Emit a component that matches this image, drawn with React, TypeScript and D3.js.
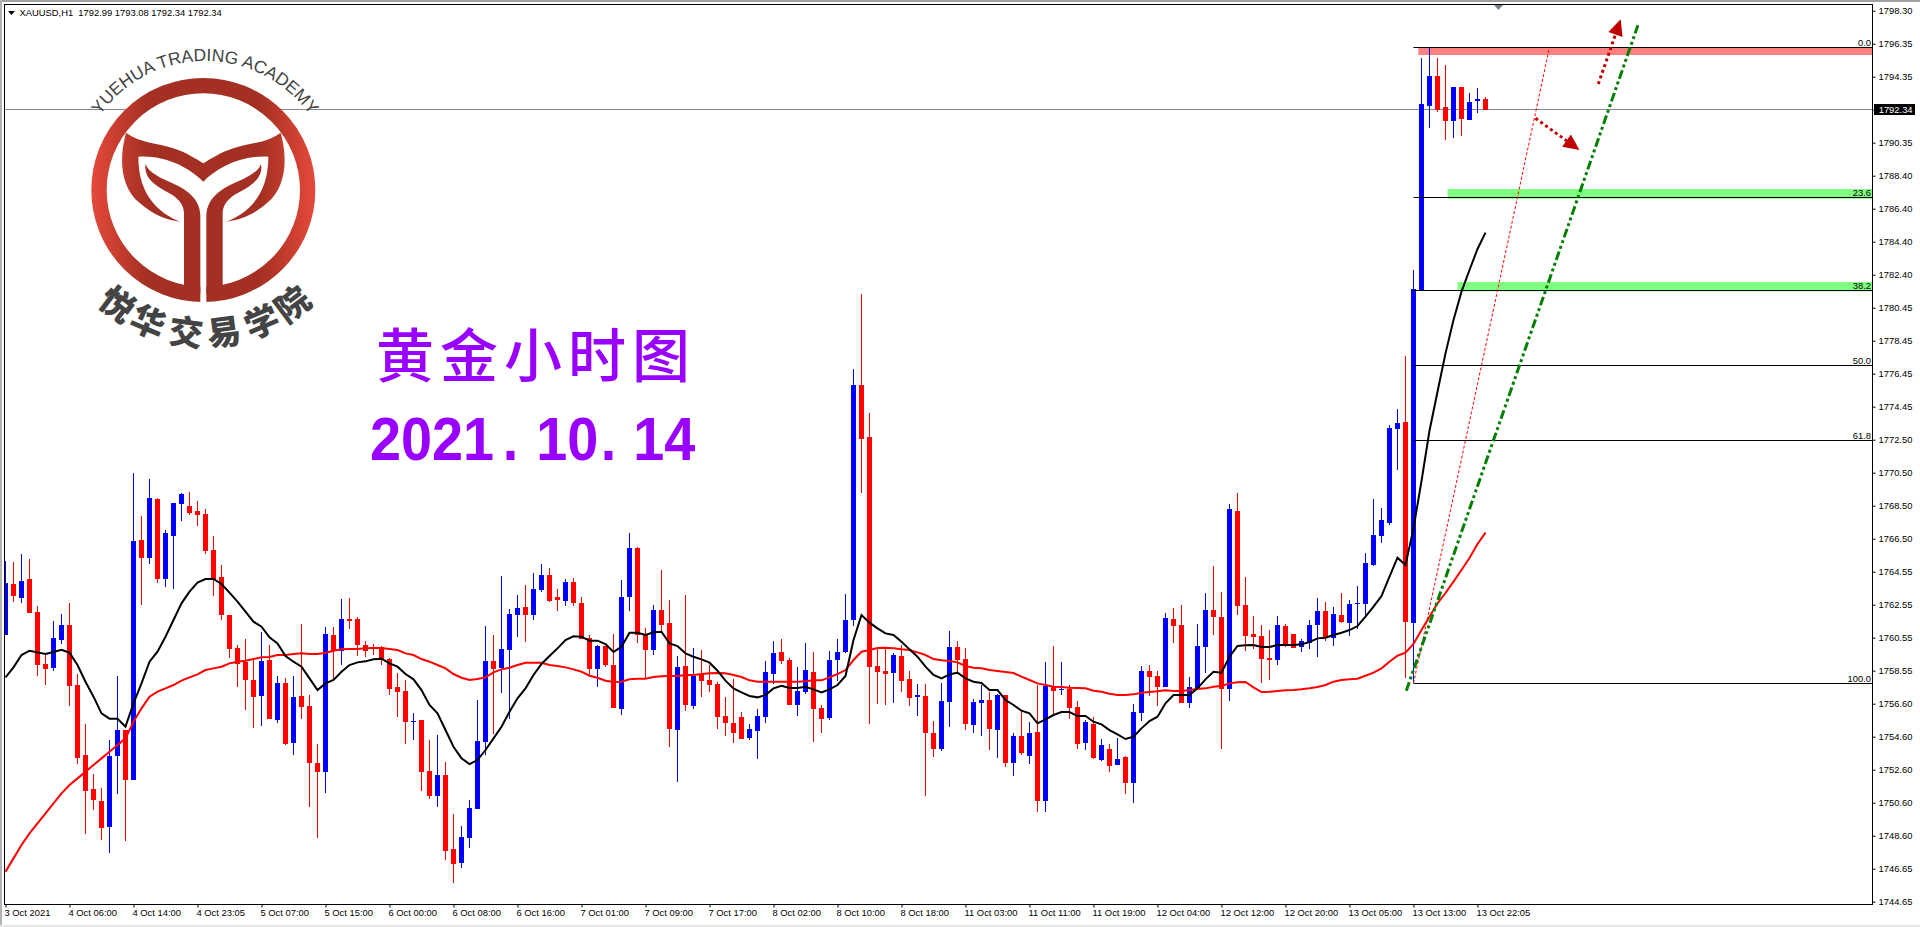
import { useEffect, useRef } from "react";
import * as d3 from "d3";

const opens = [
  1760.8, 1763.86, 1763.02, 1764.16, 1762.18, 1759.06, 1758.82, 1760.5, 1761.4, 1757.8,
  1753.6, 1751.56, 1750.84, 1749.28, 1753.54, 1755.1, 1752.1, 1766.5, 1765.42, 1768.96,
  1764.16, 1766.74, 1768.66, 1768.54, 1768.24, 1768.06, 1765.9, 1764.28, 1762, 1760.02,
  1759.18, 1758.1, 1757.14, 1759.3, 1755.7, 1757.92, 1754.32, 1757.14, 1756.54, 1753.12,
  1752.58, 1760.8, 1759.84, 1761.76, 1761.76, 1760.2, 1760.08, 1760.08, 1759.36, 1757.68,
  1757.44, 1755.58, 1755.7, 1752.64, 1751.14, 1752.4, 1747.96, 1747.12, 1748.62, 1750.36,
  1754.38, 1759.24, 1758.82, 1759.9, 1762, 1762.48, 1762, 1763.5, 1764.4, 1763.08,
  1762.84, 1763.98, 1762.72, 1760.62, 1758.76, 1760.14, 1759, 1756.36, 1763.08, 1766.02,
  1760.8, 1759.9, 1762.3, 1761.52, 1755.1, 1758.94, 1756.54, 1758.46, 1758.1, 1757.86,
  1755.94, 1755.52, 1755.88, 1754.62, 1755.04, 1755.88, 1758.46, 1759.78, 1759.3, 1756.6,
  1757.38, 1758.58, 1756.42, 1755.82, 1759.3, 1759.78, 1761.7, 1775.8, 1772.68, 1758.94,
  1758.64, 1758.52, 1759.54, 1758.16, 1757.08, 1757.14, 1754.92, 1753.96, 1756.78, 1760.08,
  1759.36, 1755.4, 1756.72, 1756.9, 1755.1, 1757.2, 1753.12, 1754.74, 1753.54, 1754.98,
  1750.84, 1757.74, 1757.5, 1757.56, 1756.48, 1754.32, 1755.46, 1753.3, 1753.96, 1753,
  1753.48, 1751.92, 1756.12, 1758.64, 1758.34, 1757.68, 1761.76, 1761.4, 1756.72, 1757.56,
  1760.08, 1762.3, 1761.88, 1757.56, 1768.24, 1762.6, 1760.86, 1760.74, 1759.42, 1759.3,
  1761.34, 1760.86, 1760.08, 1760.32, 1761.4, 1762.24, 1760.62, 1762, 1761.52, 1762.66,
  1762.66, 1765, 1766.74, 1767.52, 1773.16, 1773.58, 1761.52, 1781.5, 1792.54, 1794.34,
  1792.48, 1791.64, 1793.68, 1791.7, 1792.84, 1792.99,
];

const highs = [
  1765.24, 1765.2, 1765.66, 1765.36, 1762.54, 1759.7, 1761.64, 1762.06, 1762.72, 1758.46,
  1755.46, 1752.46, 1751.62, 1754.5, 1758.34, 1755.1, 1770.52, 1767.94, 1770.16, 1769.02,
  1767.1, 1768.72, 1769.32, 1769.38, 1768.84, 1768.36, 1766.74, 1765, 1762, 1760.2,
  1760.56, 1759.3, 1760.98, 1760.2, 1758.34, 1758.22, 1758.34, 1761.46, 1757.2, 1754.26,
  1761.28, 1761.28, 1762.96, 1763.02, 1761.88, 1760.44, 1760.26, 1760.14, 1759.42, 1758.52,
  1758.1, 1756.12, 1755.7, 1754.5, 1754.8, 1753.18, 1750.06, 1749.34, 1750.9, 1756.9,
  1761.34, 1760.8, 1764.34, 1762.36, 1763.2, 1763.8, 1764.52, 1765.06, 1764.82, 1763.56,
  1764.16, 1764.22, 1763.08, 1760.8, 1760.2, 1760.14, 1760.86, 1764.1, 1766.92, 1766.08,
  1761.22, 1762.6, 1764.7, 1762.9, 1759.54, 1763.2, 1760.02, 1759.9, 1759, 1757.98,
  1757.08, 1758.16, 1756.18, 1755.46, 1756.36, 1759.24, 1760.44, 1760.56, 1759.42, 1758.88,
  1760.32, 1759.78, 1756.6, 1759.84, 1760.56, 1763.26, 1776.76, 1781.27, 1774.12, 1759.96,
  1759.96, 1759.72, 1760.2, 1758.64, 1757.84, 1757.86, 1755.64, 1757.92, 1761.04, 1760.44,
  1760.02, 1756.96, 1757.8, 1757.38, 1757.26, 1757.2, 1754.92, 1756.3, 1755.58, 1757.8,
  1759.18, 1760.14, 1759.18, 1757.8, 1756.84, 1755.7, 1755.88, 1754.56, 1754.26, 1754.62,
  1753.54, 1756.66, 1758.94, 1759, 1758.64, 1762.12, 1762.42, 1762.6, 1758.28, 1761.46,
  1763.32, 1764.94, 1763.38, 1768.66, 1769.32, 1764.28, 1761.94, 1761.4, 1761.1, 1761.94,
  1761.46, 1760.86, 1760.56, 1761.7, 1763.02, 1762.78, 1762.48, 1763.32, 1762.9, 1763.74,
  1765.72, 1768.96, 1768.42, 1773.4, 1774.36, 1777.54, 1782.71, 1795.42, 1796.04, 1795.42,
  1795, 1793.68, 1793.68, 1793.32, 1793.62, 1793.08,
];

const lows = [
  1760.8, 1762.78, 1762.7, 1762.12, 1758.34, 1757.8, 1758.64, 1760.26, 1756.54, 1753.06,
  1748.86, 1750.3, 1748.5, 1747.72, 1751.26, 1748.44, 1752.1, 1762.6, 1765.06, 1763.92,
  1763.68, 1763.56, 1767.64, 1768, 1767.34, 1765.66, 1763.14, 1761.7, 1759.42, 1757.68,
  1756.3, 1755.22, 1755.34, 1755.76, 1755.52, 1754.2, 1753.6, 1755.76, 1750.48, 1748.62,
  1751.32, 1758.1, 1759, 1761.16, 1759.54, 1759.48, 1759.6, 1759, 1757.2, 1755.88,
  1754.26, 1754.5, 1751.44, 1750.96, 1750.48, 1747.3, 1745.92, 1746.82, 1748.02, 1750.36,
  1753.6, 1754.86, 1757.32, 1755.76, 1760.68, 1760.38, 1761.7, 1763.38, 1762.78, 1762.24,
  1762.54, 1762.54, 1760.56, 1758.4, 1757.68, 1758.88, 1756.42, 1756, 1762.24, 1760.32,
  1758.16, 1759.6, 1761.04, 1754.08, 1751.98, 1756.24, 1756.36, 1757.08, 1757.38, 1755.16,
  1754.74, 1754.32, 1754.56, 1754.5, 1753.36, 1755.52, 1757.86, 1759.06, 1756.6, 1755.94,
  1757.26, 1754.38, 1754.92, 1755.7, 1758.04, 1759.72, 1761.34, 1769.34, 1755.46, 1756.66,
  1756.6, 1756.72, 1757.38, 1756.54, 1755.94, 1751.14, 1753.48, 1753.84, 1755.28, 1758.5,
  1755.1, 1754.92, 1754.74, 1753.9, 1753.42, 1752.88, 1752.34, 1753.6, 1753.06, 1750.18,
  1750.18, 1756, 1757.2, 1755.76, 1753.96, 1753.9, 1753.36, 1753.24, 1752.58, 1753,
  1751.26, 1750.72, 1755.64, 1757.14, 1756.54, 1757.68, 1760.32, 1756.72, 1756.42, 1757.56,
  1758.52, 1760.8, 1753.96, 1756.84, 1762, 1759.84, 1759.96, 1757.92, 1758.1, 1759,
  1760.08, 1760.02, 1759.78, 1759.96, 1759.48, 1760.44, 1760.14, 1761.52, 1760.74, 1761.16,
  1761.82, 1764.94, 1766.32, 1767.4, 1770.7, 1758.22, 1757.9, 1781.5, 1791.22, 1792.18,
  1790.5, 1790.62, 1790.74, 1791.7, 1792.12, 1792.34,
];

const closes = [
  1763.9, 1763.14, 1764.04, 1762.12, 1759, 1758.76, 1760.62, 1761.4, 1757.74, 1753.42,
  1751.44, 1750.9, 1749.22, 1753.54, 1755.1, 1752.1, 1766.44, 1765.42, 1769.02, 1764.16,
  1766.92, 1768.72, 1769.26, 1768.12, 1768, 1765.84, 1764.1, 1762, 1759.96, 1759.06,
  1758.1, 1757.08, 1759.24, 1755.76, 1757.92, 1754.26, 1757.08, 1756.48, 1753.12, 1752.58,
  1760.86, 1759.84, 1761.76, 1761.64, 1760.2, 1759.84, 1760.02, 1759.36, 1757.56, 1757.38,
  1755.58, 1755.64, 1752.58, 1751.14, 1752.4, 1747.84, 1747.06, 1748.68, 1750.4, 1754.44,
  1759.24, 1758.76, 1759.96, 1762.06, 1762.42, 1762, 1763.56, 1764.4, 1762.84, 1762.9,
  1763.98, 1762.72, 1760.56, 1758.76, 1760.14, 1759, 1756.42, 1763.08, 1766.02, 1760.8,
  1759.9, 1762.3, 1761.4, 1755.16, 1758.88, 1756.6, 1758.34, 1758.04, 1757.8, 1755.88,
  1755.52, 1754.92, 1754.56, 1755.16, 1755.94, 1758.58, 1759.72, 1759.24, 1756.6, 1757.44,
  1758.7, 1756.36, 1755.76, 1759.3, 1759.78, 1761.7, 1775.8, 1772.56, 1758.88, 1758.58,
  1758.46, 1759.6, 1758.04, 1757.02, 1757.2, 1754.92, 1753.96, 1756.84, 1760.08, 1759.3,
  1755.46, 1756.78, 1756.9, 1755.16, 1757.2, 1753.12, 1754.74, 1753.72, 1754.92, 1750.84,
  1757.74, 1757.44, 1757.56, 1756.42, 1754.26, 1755.58, 1753.42, 1754.2, 1752.94, 1753.36,
  1751.92, 1756.18, 1758.64, 1758.28, 1757.68, 1761.82, 1761.34, 1756.72, 1757.68, 1760.14,
  1762.3, 1761.88, 1757.56, 1768.36, 1762.54, 1760.74, 1760.68, 1759.36, 1759.3, 1761.4,
  1760.2, 1760.02, 1760.44, 1761.4, 1762.24, 1760.62, 1762.06, 1761.58, 1762.66, 1762.72,
  1765.12, 1766.8, 1767.7, 1773.22, 1773.52, 1761.58, 1781.57, 1792.66, 1794.34, 1792.3,
  1791.64, 1793.68, 1791.76, 1792.78, 1792.96, 1792.34,
];

// black fast average, read bar by bar
const fastMa = [
  1758.26, 1758.86, 1759.6, 1759.86, 1759.76, 1759.66, 1759.78, 1759.92, 1759.74, 1759,
  1758, 1757.1, 1756.1, 1755.78, 1755.78, 1755.3, 1756.7, 1757.9, 1759.2, 1759.8,
  1760.7, 1761.7, 1762.7, 1763.4, 1763.94, 1764.16, 1764.16, 1763.86, 1763.34, 1762.8,
  1762.2, 1761.6, 1761.3, 1760.66, 1760.3, 1759.54, 1759.2, 1758.9, 1758.2, 1757.5,
  1757.9, 1758.1, 1758.6, 1759, 1759.16, 1759.22, 1759.34, 1759.38, 1759.1, 1758.9,
  1758.46, 1758.14, 1757.5, 1756.6, 1756.1, 1755.1, 1754.1, 1753.4, 1753.06, 1753.3,
  1753.9, 1754.6, 1755.3, 1756.2, 1757, 1757.6, 1758.4, 1759.06, 1759.54, 1760,
  1760.5, 1760.72, 1760.7, 1760.46, 1760.46, 1760.26, 1759.78, 1760.1, 1760.94, 1760.94,
  1760.8, 1760.96, 1761, 1760.3, 1760.14, 1759.7, 1759.5, 1759.34, 1759.14, 1758.66,
  1758.06, 1757.6, 1757.36, 1757.14, 1757.06, 1757.2, 1757.6, 1757.76, 1757.62, 1757.62,
  1757.7, 1757.54, 1757.36, 1757.54, 1757.8, 1758.34, 1760.5, 1762, 1761.54, 1761.2,
  1760.9, 1760.8, 1760.4, 1759.94, 1759.5, 1758.9, 1758.4, 1758.2, 1758.44, 1758.54,
  1758.2, 1758, 1757.92, 1757.5, 1757.5, 1756.9, 1756.6, 1756.26, 1756.1, 1755.5,
  1755.74, 1756, 1756.18, 1756.18, 1755.94, 1755.94, 1755.6, 1755.44, 1755.1, 1754.84,
  1754.56, 1754.7, 1755.2, 1755.64, 1755.9, 1756.7, 1757.2, 1757.2, 1757.2, 1757.6,
  1758.14, 1758.6, 1758.54, 1759.5, 1760.14, 1760.18, 1760.2, 1760.08, 1760.08, 1760.2,
  1760.2, 1760.2, 1760.24, 1760.38, 1760.6, 1760.64, 1760.8, 1760.94, 1761.1, 1761.34,
  1761.9, 1762.5, 1763.14, 1764.3, 1765.44, 1765, 1767.2, 1770.04, 1773.06, 1775.4,
  1777.7, 1779.7, 1781.4, 1782.7, 1783.96, 1784.94,
];

// red slow average
const slowMa = [
  1746.6, 1747.4, 1748.2, 1748.9, 1749.5, 1750.1, 1750.7, 1751.3, 1751.8, 1752.2,
  1752.6, 1753, 1753.4, 1753.8, 1754.2, 1754.6, 1755.6, 1756.4, 1757.1, 1757.4,
  1757.6, 1757.8, 1758.06, 1758.26, 1758.44, 1758.7, 1758.8, 1758.9, 1759.1, 1759.2,
  1759.26, 1759.36, 1759.46, 1759.48, 1759.6, 1759.6, 1759.66, 1759.7, 1759.66, 1759.66,
  1759.74, 1759.86, 1759.94, 1759.96, 1759.96, 1760, 1760.02, 1760.02, 1759.96, 1759.9,
  1759.7, 1759.6, 1759.36, 1759.2, 1759, 1758.8, 1758.46, 1758.24, 1758.1, 1758.16,
  1758.26, 1758.56, 1758.74, 1758.84, 1759, 1759.14, 1759.14, 1759.14, 1759, 1758.94,
  1758.86, 1758.74, 1758.6, 1758.36, 1758.24, 1758.06, 1757.98, 1758, 1758.14, 1758.18,
  1758.18, 1758.28, 1758.32, 1758.34, 1758.34, 1758.4, 1758.4, 1758.46, 1758.5, 1758.52,
  1758.5, 1758.4, 1758.28, 1758.08, 1758, 1758, 1758, 1758, 1758, 1758,
  1758.02, 1758.08, 1758.08, 1758.26, 1758.46, 1758.7, 1759.3, 1759.8, 1759.9, 1760.02,
  1760.04, 1760, 1759.94, 1759.9, 1759.76, 1759.6, 1759.36, 1759.28, 1759.24, 1759.16,
  1758.94, 1758.84, 1758.8, 1758.7, 1758.64, 1758.58, 1758.52, 1758.3, 1758.1, 1757.9,
  1757.8, 1757.7, 1757.68, 1757.64, 1757.62, 1757.6, 1757.46, 1757.4, 1757.28, 1757.2,
  1757.2, 1757.24, 1757.34, 1757.38, 1757.42, 1757.48, 1757.44, 1757.44, 1757.5, 1757.56,
  1757.6, 1757.7, 1757.74, 1757.9, 1757.96, 1757.98, 1757.66, 1757.38, 1757.4, 1757.44,
  1757.48, 1757.5, 1757.54, 1757.6, 1757.68, 1757.8, 1758, 1758.1, 1758.14, 1758.18,
  1758.36, 1758.54, 1758.8, 1759.2, 1759.56, 1759.74, 1760.26, 1761.1, 1761.9, 1762.7,
  1763.32, 1764, 1764.7, 1765.42, 1766.26, 1766.94,
];

const priceTicks = [
  "1798.30", "1796.35", "1794.35", "1792.35", "1790.35", "1788.40", "1786.40",
  "1784.40", "1782.40", "1780.45", "1778.45", "1776.45", "1774.45", "1772.50",
  "1770.50", "1768.50", "1766.50", "1764.55", "1762.55", "1760.55", "1758.55",
  "1756.60", "1754.60", "1752.60", "1750.60", "1748.60", "1746.65", "1744.65",
];

const timeTicks = [
  "3 Oct 2021", "4 Oct 06:00", "4 Oct 14:00", "4 Oct 23:05", "5 Oct 07:00", "5 Oct 15:00",
  "6 Oct 00:00", "6 Oct 08:00", "6 Oct 16:00", "7 Oct 01:00", "7 Oct 09:00", "7 Oct 17:00",
  "8 Oct 02:00", "8 Oct 10:00", "8 Oct 18:00", "11 Oct 03:00", "11 Oct 11:00", "11 Oct 19:00",
  "12 Oct 04:00", "12 Oct 12:00", "12 Oct 20:00", "13 Oct 05:00", "13 Oct 13:00", "13 Oct 22:05",
];

const lastPrice = 1792.34;

// fibonacci drawn on the last leg
const fibHigh = 1796.06;
const fibLow = 1757.9;
const fibBar = 176;
const fibLevels = [0, 23.6, 38.2, 50, 61.8, 100];

// supply / demand boxes
const zoneBars = [176.6, 180.25, 181.5];
const zoneTops = [1796.06, 1787.56, 1781.98];
const zoneBottoms = [1795.6, 1786.98, 1781.42];
const zoneColors = ["#ff8080", "#80ff80", "#80ff80"];

// trendlines, [bar, price] ends (bars run on past the last candle)
const greenTrend = [[175.1, 1757.46], [204.05, 1797.38]];
const redTrend = [[176, 1757.9], [193, 1796.06]];
const arrowDown = [[191.25, 1791.8], [196.75, 1789.9]];
const arrowUp = [[199.1, 1793.86], [201.9, 1797.74]];

const academyCn = ["悦", "华", "交", "易", "学", "院"];
const academyAngles = [37, 23, 7.5, -7.5, -23, -37];

const dateParts = ["2021", ".", "10", ".", "14"];
const dateGaps = [0, 9.6, 20, 2.7, 19];

const LABEL_FONT = "'Liberation Sans', Arial, sans-serif";
const LABEL_SIZE = 9.4;

const App = () => {
  const svgRef = useRef<SVGSVGElement | null>(null);

  useEffect(() => {
    if (!svgRef.current) return;
    const width = 1920;
    const height = 927;
    const frame = { left: 4.5, top: 4.5, right: 1872.5, bottom: 904.5 };

    const svg = d3.select(svgRef.current);
    svg.selectAll("*").remove();

    const xScale = d3.scaleLinear().domain([0, 185]).range([5.5, 1485.5]);
    const yScale = d3.scaleLinear().domain([1798.3, 1744.65]).range([10, 904.2]);
    // MT4 spaces the price labels evenly, so they get their own scale
    const tickScale = d3.scalePoint<string>().domain(priceTicks).range([10.7, 901.7]);
    const snap = (v: number) => Math.floor(v) + 0.5;

    svg.append("rect").attr("width", width).attr("height", height).attr("fill", "#fff");
    svg.append("rect").attr("width", width).attr("height", 2).attr("fill", "#a0a0a0");
    svg.append("rect").attr("width", 2).attr("height", height).attr("fill", "#b4b4b4");
    svg.append("rect").attr("y", 925).attr("width", width).attr("height", 2).attr("fill", "#e6e6e6");

    const defs = svg.append("defs");
    defs
      .append("clipPath")
      .attr("id", "plot")
      .append("rect")
      .attr("x", 5)
      .attr("y", 5)
      .attr("width", frame.right - 5)
      .attr("height", frame.bottom - 5);
    const grad = defs
      .append("linearGradient")
      .attr("id", "logoRed")
      .attr("gradientUnits", "userSpaceOnUse")
      .attr("x1", 275)
      .attr("x2", 945)
      .attr("y1", 0)
      .attr("y2", 0);
    [[0, "#e5493a"], [0.25, "#a33023"], [0.75, "#a33023"], [1, "#e5493a"]].forEach(([o, c]) =>
      grad.append("stop").attr("offset", o as number).attr("stop-color", c as string)
    );

    const plot = svg.append("g").attr("clip-path", "url(#plot)");

    // price line sits under the logo
    plot
      .append("line")
      .attr("x1", frame.left)
      .attr("x2", frame.right)
      .attr("y1", snap(yScale(lastPrice)))
      .attr("y2", snap(yScale(lastPrice)))
      .attr("stroke", "#808890");

    // logo, drawn in 3x units
    const logo = plot.append("g").attr("transform", "scale(0.33333)");
    logo.append("circle").attr("cx", 610).attr("cy", 570).attr("r", 336).attr("fill", "#fff");
    logo
      .append("circle")
      .attr("cx", 610)
      .attr("cy", 570)
      .attr("r", 313)
      .attr("fill", "none")
      .attr("stroke", "url(#logoRed)")
      .attr("stroke-width", 46);
    logo.append("rect").attr("x", 601).attr("y", 640).attr("width", 18).attr("height", 275).attr("fill", "#fff");
    logo
      .append("path")
      .attr("fill", "url(#logoRed)")
      .attr(
        "d",
        "M378 398C420 430 480 430 520 445C560 458 590 478 610 490C630 478 660 458 700 445C740 430 800 430 842 398" +
          "C862 470 862 560 800 610C760 645 720 660 680 665C740 640 805 590 805 470C720 465 650 505 610 545" +
          "C570 505 500 465 415 470C415 590 480 640 540 665C500 660 460 645 420 610C358 560 358 470 378 398Z"
      );
    const stem =
      "M437 492C450 530 520 545 555 570C590 595 600 620 601 645L601 880Q590 900 570 903L540 890L552 855L552 640" +
      "C552 610 530 590 500 575C460 555 430 530 437 492Z";
    logo.append("path").attr("fill", "#a33023").attr("d", stem);
    logo
      .append("path")
      .attr("fill", "#a33023")
      .attr("d", stem)
      .attr("transform", "translate(1220,0) scale(-1,1)");

    const arcR = 129;
    defs
      .append("path")
      .attr("id", "academyArc")
      .attr("d", `M${205 - arcR} 190A${arcR} ${arcR} 0 0 1 ${205 + arcR} 190`);
    plot
      .append("text")
      .attr("font-family", LABEL_FONT)
      .attr("font-size", 17.5)
      .attr("fill", "#444")
      .append("textPath")
      .attr("href", "#academyArc")
      .attr("startOffset", "50%")
      .attr("text-anchor", "middle")
      .text("YUEHUA TRADING ACADEMY");
    academyCn.forEach((ch, i) => {
      plot
        .append("text")
        .attr("transform", `translate(205,188) rotate(${academyAngles[i]}) translate(0,158)`)
        .attr("text-anchor", "middle")
        .attr("font-family", "'Noto Sans CJK SC'")
        .attr("font-weight", 900)
        .attr("font-size", 34)
        .attr("fill", "#444")
        .text(ch);
    });

    // purple heading
    plot
      .append("text")
      .attr("x", 376)
      .attr("y", 377)
      .attr("font-family", "'Noto Sans CJK SC'")
      .attr("font-weight", 500)
      .attr("font-size", 58)
      .attr("letter-spacing", 6)
      .attr("fill", "#9900ff")
      .text("黄金小时图");
    const dateText = plot
      .append("text")
      .attr("transform", "translate(370,460) scale(0.9,1)")
      .attr("font-family", LABEL_FONT)
      .attr("font-weight", 700)
      .attr("font-size", 62)
      .attr("fill", "#9900ff");
    dateParts.forEach((part, i) => {
      dateText.append("tspan").attr("dx", dateGaps[i]).text(part);
    });

    // zones
    zoneBars.forEach((b, i) => {
      plot
        .append("rect")
        .attr("x", xScale(b))
        .attr("y", yScale(zoneTops[i]))
        .attr("width", frame.right - xScale(b))
        .attr("height", yScale(zoneBottoms[i]) - yScale(zoneTops[i]))
        .attr("fill", zoneColors[i]);
    });

    // candles
    const bars = d3.range(opens.length);
    const candleColor = (i: number) => (closes[i] >= opens[i] ? "#0000ff" : "#ff0000");
    const candles = plot.append("g").attr("shape-rendering", "crispEdges");
    candles
      .selectAll("line")
      .data(bars)
      .join("line")
      .attr("x1", (i) => xScale(i))
      .attr("x2", (i) => xScale(i))
      .attr("y1", (i) => Math.round(yScale(highs[i])))
      .attr("y2", (i) => Math.round(yScale(lows[i])))
      .attr("stroke", candleColor);
    candles
      .selectAll("rect")
      .data(bars)
      .join("rect")
      .attr("x", (i) => xScale(i) - 2.5)
      .attr("width", 5)
      .attr("y", (i) => Math.round(yScale(Math.max(opens[i], closes[i]))))
      .attr("height", (i) =>
        Math.max(1, Math.round(Math.abs(yScale(opens[i]) - yScale(closes[i]))))
      )
      .attr("fill", candleColor);

    // moving averages
    const maLine = d3
      .line<number>()
      .x((_, i) => xScale(i))
      .y((d) => yScale(d));
    plot
      .append("path")
      .attr("d", maLine(slowMa))
      .attr("fill", "none")
      .attr("stroke", "#ff0000")
      .attr("stroke-width", 2);
    plot
      .append("path")
      .attr("d", maLine(fastMa))
      .attr("fill", "none")
      .attr("stroke", "#000")
      .attr("stroke-width", 2);

    // fibonacci levels
    fibLevels.forEach((lvl) => {
      const y = snap(yScale(fibHigh - ((fibHigh - fibLow) * lvl) / 100));
      plot
        .append("line")
        .attr("x1", xScale(fibBar))
        .attr("x2", frame.right)
        .attr("y1", y)
        .attr("y2", y)
        .attr("stroke", "#000");
      plot
        .append("text")
        .attr("x", 1871)
        .attr("y", y - 2)
        .attr("text-anchor", "end")
        .attr("font-family", LABEL_FONT)
        .attr("font-size", LABEL_SIZE)
        .attr("fill", "#000")
        .text(lvl.toFixed(1));
    });

    // trendlines
    const trend = d3
      .line<number[]>()
      .x((d) => xScale(d[0]))
      .y((d) => yScale(d[1]));
    plot
      .append("path")
      .attr("d", trend(redTrend))
      .attr("fill", "none")
      .attr("stroke", "#ff0000")
      .attr("stroke-dasharray", "3 2");
    plot
      .append("path")
      .attr("d", trend(greenTrend))
      .attr("fill", "none")
      .attr("stroke", "#007f00")
      .attr("stroke-width", 3)
      .attr("stroke-dasharray", "9 3 3 3 3 3");

    // dotted arrows with solid heads
    [arrowDown, arrowUp].forEach((pts) => {
      const [x0, y0] = [xScale(pts[0][0]), yScale(pts[0][1])];
      const [x1, y1] = [xScale(pts[1][0]), yScale(pts[1][1])];
      const len = Math.hypot(x1 - x0, y1 - y0);
      const ux = (x1 - x0) / len;
      const uy = (y1 - y0) / len;
      const head = 16;
      const half = 7.5;
      const bx = x1 - ux * head;
      const by = y1 - uy * head;
      plot
        .append("line")
        .attr("x1", x0)
        .attr("y1", y0)
        .attr("x2", bx)
        .attr("y2", by)
        .attr("stroke", "#c00000")
        .attr("stroke-width", 3)
        .attr("stroke-dasharray", "3 3");
      plot
        .append("polygon")
        .attr(
          "points",
          `${x1},${y1} ${bx - uy * half},${by + ux * half} ${bx + uy * half},${by - ux * half}`
        )
        .attr("fill", "#c00000");
    });

    // chart shift marker + header
    svg.append("polygon").attr("points", "1494,5 1503,5 1498.5,10").attr("fill", "#708090");
    svg.append("polygon").attr("points", "8,11 15,11 11.5,15").attr("fill", "#000");
    svg
      .append("text")
      .attr("x", 19.5)
      .attr("y", 16)
      .attr("font-family", LABEL_FONT)
      .attr("font-size", LABEL_SIZE)
      .attr("fill", "#000")
      .style("white-space", "pre")
      .text("XAUUSD,H1  1792.99 1793.08 1792.34 1792.34");

    // frame
    svg
      .append("rect")
      .attr("x", frame.left)
      .attr("y", frame.top)
      .attr("width", frame.right - frame.left)
      .attr("height", frame.bottom - frame.top)
      .attr("fill", "none")
      .attr("stroke", "#000");

    // axes
    const yAxis = svg
      .append("g")
      .attr("transform", `translate(${frame.right},0)`)
      .call(d3.axisRight(tickScale).tickSize(3).tickPadding(3));
    yAxis.select(".domain").remove();
    yAxis
      .selectAll("text")
      .attr("font-family", LABEL_FONT)
      .attr("font-size", LABEL_SIZE)
      .attr("fill", "#000");

    const xAxis = svg
      .append("g")
      .attr("transform", `translate(0,${frame.bottom})`)
      .call(
        d3
          .axisBottom(xScale)
          .tickValues(timeTicks.map((_, i) => i * 8))
          .tickSize(3)
          .tickPadding(2)
          .tickFormat((d) => timeTicks[(d as number) / 8])
      );
    xAxis.select(".domain").remove();
    xAxis
      .selectAll("text")
      .attr("text-anchor", "start")
      .attr("x", -1.5)
      .attr("font-family", LABEL_FONT)
      .attr("font-size", LABEL_SIZE)
      .attr("fill", "#000");

    // last price tag
    const tagY = tickScale("1792.35") as number;
    svg.append("rect").attr("x", 1874).attr("y", 104).attr("width", 41).attr("height", 11).attr("fill", "#000");
    svg
      .append("text")
      .attr("x", 1878.7)
      .attr("y", tagY + 3.2)
      .attr("font-family", LABEL_FONT)
      .attr("font-size", LABEL_SIZE)
      .attr("fill", "#fff")
      .text(lastPrice.toFixed(2));
  }, []);

  return (
    <svg
      ref={svgRef}
      width={1920}
      height={927}
      style={{ position: "absolute", left: 0, top: 0, display: "block" }}
    />
  );
};

export default App;
